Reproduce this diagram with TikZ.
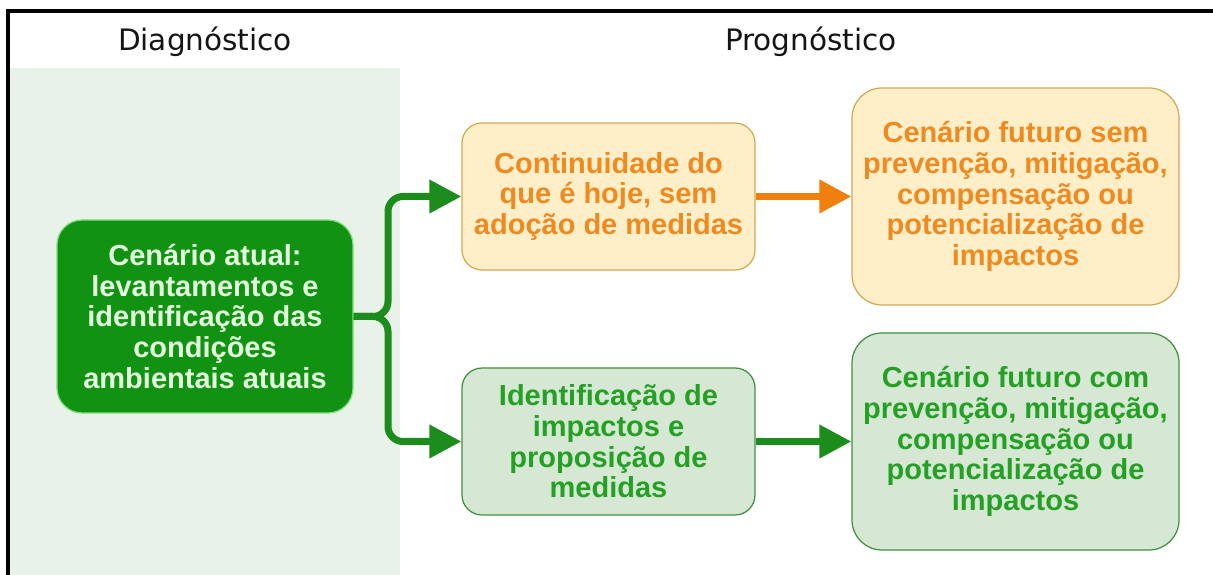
\documentclass[tikz,border=0pt]{standalone}
\usepackage{fontspec}
\setmainfont{Liberation Sans}
\newfontfamily\headfont{DejaVu Sans}
\usepackage{tikz}
\usetikzlibrary{arrows.meta}
\definecolor{panelgreen}{HTML}{E8F2E8}
\definecolor{nowfill}{HTML}{129212}
\definecolor{nowedge}{HTML}{7FDF7F}
\definecolor{nowtext}{HTML}{E2FBDC}
\definecolor{orfill}{HTML}{FFEFC8}
\definecolor{oredge}{HTML}{D2A852}
\definecolor{ortext}{HTML}{EE8A20}
\definecolor{orline}{HTML}{F0800E}
\definecolor{grfill}{HTML}{D6E8D4}
\definecolor{gredge}{HTML}{3F8F3F}
\definecolor{grtext}{HTML}{24A024}
\definecolor{grline}{HTML}{1C8C1C}
\definecolor{headgray}{HTML}{141414}

\begin{document}
\begin{tikzpicture}[
    box/.style={rectangle, rounded corners=0.4cm, align=center, inner sep=2pt,
                line width=0.7pt, font=\bfseries\fontsize{16.5pt}{17.5pt}\selectfont},
    now/.style={box, fill=nowfill, draw=nowedge, text=nowtext, rounded corners=0.5cm,
                minimum width=5.92cm, minimum height=3.86cm},
    orbox/.style={box, fill=orfill, draw=oredge, text=ortext},
    grbox/.style={box, fill=grfill, draw=gredge, text=grtext},
    flow/.style={-{Triangle[length=0.64cm, width=0.64cm]}, line width=0.14cm},
    head/.style={font=\headfont\fontsize{16.8pt}{19pt}\selectfont, text=headgray}
]
  \useasboundingbox (0,0) rectangle (24.26,11.5);

  % Diagnostic panel and frame
  \fill[panelgreen] (0.16,0) rectangle (8.0,10.14);
  \draw[line width=0.08cm] (0.16,0) |- (24.26,11.28);

  % Column headings
  \node[head] (diag) at (4.10,10.66) {Diagnóstico};
  \node[head] (prog) at (16.22,10.66) {Prognóstico};

  % Current scenario
  \node[now] (atual) at (4.10,5.17) {%
    Cenário atual:\\
    levantamentos e\\
    identificação das\\
    condições\\
    ambientais atuais};

  % Middle column
  \node[orbox, minimum width=5.86cm, minimum height=2.94cm] (cont) at (12.17,7.57) {%
    Continuidade do\\
    que é hoje, sem\\
    adoção de medidas};
  \node[grbox, minimum width=5.86cm, minimum height=2.94cm] (ident) at (12.17,2.67) {%
    Identificação de\\
    impactos e\\
    proposição de\\
    medidas};

  % Future scenarios
  \node[orbox, rounded corners=0.6cm, minimum width=6.54cm, minimum height=4.34cm] (sem) at (20.31,7.57) {%
    Cenário futuro sem\\
    prevenção, mitigação,\\
    compensação ou\\
    potencialização de\\
    impactos};
  \node[grbox, rounded corners=0.6cm, minimum width=6.54cm, minimum height=4.34cm] (com) at (20.31,2.67) {%
    Cenário futuro com\\
    prevenção, mitigação,\\
    compensação ou\\
    potencialização de\\
    impactos};

  % Fork out of the current scenario
  \coordinate (fork) at (7.76,5.17);
  \draw[flow, grline, rounded corners=0.3cm] (atual.east) -- (fork) |- (cont.west);
  \draw[flow, grline, rounded corners=0.3cm] (atual.east) -- (fork) |- (ident.west);

  % Straight links to the future scenarios
  \draw[flow, orline] (cont) -- (sem);
  \draw[flow, grline] (ident) -- (com);
\end{tikzpicture}
\end{document}
